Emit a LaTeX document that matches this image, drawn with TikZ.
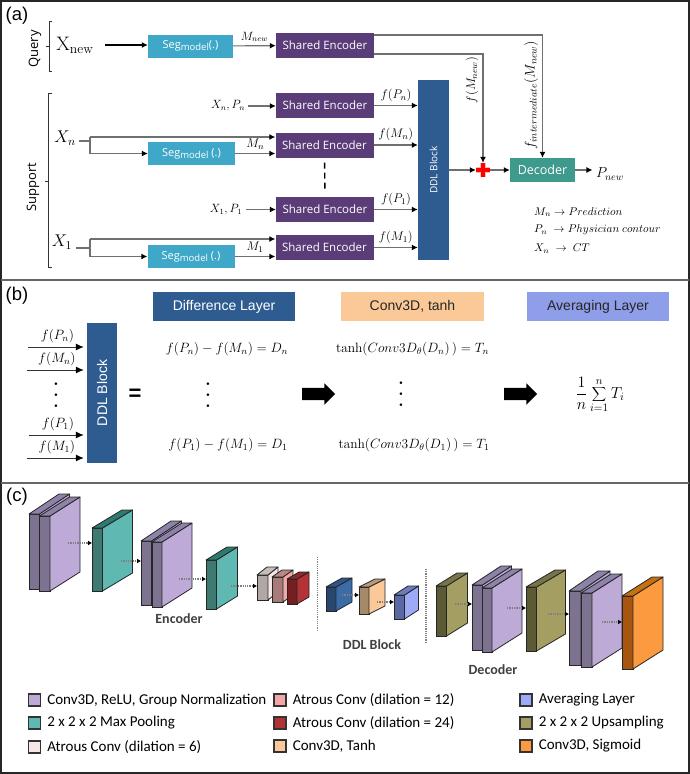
\RequirePackage{fix-cm}
\documentclass[tikz,border=0pt]{standalone}
\usepackage[no-math]{fontspec}
\setmainfont{Open Sans}
\newfontfamily\arialfont{Liberation Sans}
\newfontfamily\calfont{Carlito}
\usetikzlibrary{arrows.meta,positioning,shapes.arrows}

\definecolor{segblue}{HTML}{3FA8C8}
\definecolor{encpurple}{HTML}{5A3D78}
\definecolor{ddlblue}{HTML}{2F5C90}
\definecolor{decteal}{HTML}{3F9A8E}
\definecolor{linegrey}{HTML}{707070}
\definecolor{avgblue}{HTML}{8F9EE8}
\definecolor{purside}{HTML}{7D7290}
\definecolor{purface}{HTML}{BDAAD6}
\definecolor{purtop}{HTML}{8D82A8}
\definecolor{tealside}{HTML}{3F7A72}
\definecolor{tealface}{HTML}{5FB9B2}
\definecolor{tealtop}{HTML}{2F7A70}
\definecolor{paleside}{HTML}{B0A8A4}
\definecolor{paleface}{HTML}{F5E8E6}
\definecolor{paletop}{HTML}{C8BCB8}
\definecolor{roseside}{HTML}{A87A78}
\definecolor{roseface}{HTML}{F3A8A8}
\definecolor{rosetop}{HTML}{B88884}
\definecolor{redside}{HTML}{742022}
\definecolor{redface}{HTML}{B23236}
\definecolor{redtop}{HTML}{8C2A2C}
\definecolor{navyside}{HTML}{27476E}
\definecolor{navyface}{HTML}{3B6CA8}
\definecolor{navytop}{HTML}{2F5688}
\definecolor{peachside}{HTML}{A58A6A}
\definecolor{peachface}{HTML}{FBC998}
\definecolor{peachtop}{HTML}{B89A78}
\definecolor{periside}{HTML}{5A68A5}
\definecolor{periface}{HTML}{9CAAF8}
\definecolor{peritop}{HTML}{6F7DC0}
\definecolor{oliveside}{HTML}{5C5A34}
\definecolor{oliveface}{HTML}{A59E62}
\definecolor{olivetop}{HTML}{77744A}
\definecolor{orangeside}{HTML}{A8560F}
\definecolor{orangeface}{HTML}{FB9A3E}
\definecolor{orangetop}{HTML}{C7700F}

\newcommand{\fsize}[1]{\fontsize{#1}{#1}\selectfont}
\newcommand{\segtext}[1]{Seg\raisebox{-2pt}{\fsize{9.5}model}#1(.)}
\newcommand{\dotcol}{\vbox{\baselineskip11pt\lineskiplimit0pt\hbox{$.$}\hbox{$.$}\hbox{$.$}}}

\tikzset{
  flow/.style={draw=linegrey,line width=1.1pt,-{Latex[length=6pt,width=6pt,black]}},
  link/.style={draw=linegrey,line width=1.1pt},
  flowdark/.style={draw=black,line width=1.2pt,-{Latex[length=6pt,width=6pt,black]}},
  flowbig/.style={draw=black!80,line width=1pt,shorten >=3pt,-{Latex[length=8pt,width=7pt,black]}},
  smallflow/.style={draw=gray,line width=1.3pt,densely dotted,-{Latex[length=4pt,width=5pt,black]}},
  enc/.style={fill=encpurple,text=white,minimum width=98pt,minimum height=25pt,inner sep=0pt,font=\fsize{11.5}},
  seg/.style={fill=segblue,text=white,minimum width=87pt,minimum height=23pt,inner sep=0pt,font=\fsize{11}},
  panelbox/.style={minimum width=142pt,minimum height=29pt,inner sep=0pt,font=\arialfont\fsize{14}},
  eqn/.style={font=\fsize{13.5}},
  dotstack/.style={font=\fsize{27},inner sep=0pt},
  bigarrow/.style={single arrow,fill=black,minimum height=33pt,minimum width=21pt,single arrow head extend=4.5pt,single arrow head indent=0pt,inner xsep=0pt,inner ysep=6pt},
  legsq/.style={draw=black!80,line width=1.2pt,minimum size=12pt,inner sep=0pt},
  legtext/.style={font=\calfont\fsize{15},inner sep=0pt},
  partname/.style={font=\calfont\bfseries\fsize{14},text=black!75},
  sideface/.style={draw=black!85,line width=.8pt,inner sep=0pt,outer sep=0pt},
  blockedge/.style={draw=black!85,line width=.8pt,line join=round},
  sep/.style={draw=gray,line width=1.2pt,densely dotted},
}

% name, x, y, side width, height, dx, dy, colour family
\newcommand{\cuboid}[8]{%
  \node[sideface,fill=#8side,minimum width=#4pt,minimum height=#5pt,anchor=north west] (#1) at (#2,#3) {};
  \draw[blockedge,fill=#8face] (#1.north east) -- ++(#6,-#7) -- ++(0,#5) -- (#1.south east) -- cycle;
  \draw[blockedge,fill=#8top] (#1.north west) -- ++(#6,-#7) -- ++(#4,0) -- (#1.north east) -- cycle;
}
% name, x, y, colour, text
\newcommand{\legitem}[5]{%
  \node[legsq,fill=#4] (#1) at (#2,#3) {};
  \node[legtext,right=6pt of #1] (#1t) {#5};
}

\begin{document}
\begin{tikzpicture}[x=1pt,y=-1pt]
  \useasboundingbox (0,0) rectangle (690,774);
  \fill[white] (0,0) rectangle (690,774);

  % panel frames
  \draw[black!85,line width=2pt] (1,1) rectangle (689,773);
  \draw[black!60,line width=2pt] (1,279.5) -- (689,279.5);
  \draw[black!60,line width=2pt] (1,482.5) -- (689,482.5);

  \node[font=\arialfont\fsize{18.5}] (taga) at (17,16) {(a)};
  \node[font=\arialfont\fsize{18.5}] (tagb) at (17,296) {(b)};
  \node[font=\arialfont\fsize{18.5}] (tagc) at (17,497) {(c)};

  % (a) query
  \node[rotate=90,font=\fsize{13}] (query) at (35,49) {Query};
  \draw[black!80,line width=1pt] (52,21) -- (49,21) -- (49,71) -- (52,71) (49,46) -- (46,46);
  \node[font=\fsize{19.5}] (xnew) at (75,45) {$\mathrm{X}_{\mathrm{new}}$};
  \node[seg,minimum width=85pt] (segnew) at (190.5,46) {\segtext{}};
  \node[enc] (encnew) at (325,45.5) {Shared Encoder};
  \draw[flowdark] (xnew.east) ++(8pt,0) coordinate (xnewout) -- (xnewout -| segnew.west);
  \draw[flow] (segnew) -- node[above,font=\fsize{12}] (lmnew) {$M_{new}$} (encnew);

  % (a) support
  \node[rotate=90,font=\fsize{13}] (support) at (33,187) {Support};
  \draw[black!80,line width=1pt] (52,93) -- (48,93) -- (48,267) -- (52,267) (48,181) -- (45,181);

  \node[enc] (encpn) at (325,105.5) {Shared Encoder};
  \node[enc] (encmn) at (324.5,145) {Shared Encoder};
  \node[enc] (encpa) at (325,209.5) {Shared Encoder};
  \node[enc] (encma) at (324.5,247.5) {Shared Encoder};
  \draw[black,line width=1.4pt,dash pattern=on 6pt off 4pt,shorten <=5pt,shorten >=5pt] (encmn) -- (encpa);

  \node[seg] (segn) at (191.5,153.5) {\segtext{ }};
  \node[seg] (sega) at (191,256.5) {\segtext{ }};

  \node[font=\fsize{12}] (xpn) at (228,106) {$X_n,P_n$};
  \node[font=\fsize{12}] (xpa) at (226,209.5) {$X_1,P_1$};
  \draw[flow] (xpn) -- (xpn -| encpn.west);
  \draw[flow] (xpa) -- (xpa -| encpa.west);

  \node[font=\fsize{17}] (xn) at (65,138) {$X_n$};
  \node[font=\fsize{17}] (xa) at (62,242) {$X_1$};
  \coordinate (jn) at (90,141);
  \coordinate (ja) at (90,248);
  \coordinate (jnt) at (90,137);
  \coordinate (jnb) at (90,153.5);
  \coordinate (jat) at (90,239);
  \coordinate (jab) at (90,256.5);
  \draw[link] (xn.east |- jn) -- (jn);
  \draw[link] (xa.east |- ja) -- (ja);
  \draw[link] (jnb) -- (jnt);
  \draw[link] (jab) -- (jat);
  \draw[flow] (jnt) -- (jnt -| encmn.west);
  \draw[flow] (jat) -- (jat -| encma.west);
  \draw[flow] (jnb) -- (segn);
  \draw[flow] (jab) -- (sega);
  \draw[flow] (segn) -- node[above,font=\fsize{12.5}] (lmn) {$M_n$} (segn -| encmn.west);
  \draw[flow] (sega) -- node[above,font=\fsize{12.5}] (lma) {$M_1$} (sega -| encma.west);

  % (a) right side
  \node[fill=ddlblue,text=white,minimum width=31pt,minimum height=180pt,inner sep=0pt] (ddl) at (433.5,170) {};
  \node[rotate=90,text=white,font=\fsize{10}] (ddltext) at (ddl) {DDL Block};
  \node[fill=decteal,text=white,minimum width=65pt,minimum height=24pt,inner sep=0pt,font=\fsize{12.5}] (decoder) at (542.5,170) {Decoder};
  \node[minimum size=14pt,inner sep=0pt] (plus) at (483,170) {};
  \draw[red!60,line width=6pt,opacity=.45] ([xshift=-7pt]plus.center) -- ([xshift=7pt]plus.center) ([yshift=-7pt]plus.center) -- ([yshift=7pt]plus.center);
  \draw[red,line width=4pt] ([xshift=-7pt]plus.center) -- ([xshift=7pt]plus.center) ([yshift=-7pt]plus.center) -- ([yshift=7pt]plus.center);

  \draw[flow] (encpn) -- node[above,font=\fsize{12.5}] (lfpn) {$f(P_n)$} (encpn -| ddl.west);
  \draw[flow] (encmn) -- node[above,font=\fsize{12.5}] (lfmn) {$f(M_n)$} (encmn -| ddl.west);
  \draw[flow] (encpa) -- node[above,font=\fsize{12.5}] (lfpa) {$f(P_1)$} (encpa -| ddl.west);
  \draw[flow] (encma) -- node[above,font=\fsize{12.5}] (lfma) {$f(M_1)$} (encma -| ddl.west);
  \draw[flow] (ddl) -- (plus);
  \draw[flow] (plus) -- (decoder);
  \draw[flow] (encnew.east |- 0,54) -| (plus.north);
  \draw[flow] (encnew.east |- 0,35) -| (decoder.north);
  \node[rotate=90,font=\fsize{12.5}] (lfmnew) at (472,80) {$f(M_{new})$};
  \node[rotate=90,font=\fsize{14}] (lfint) at (531,95) {$f_{intermediate}(M_{new})$};

  \node[font=\fsize{14.5}] (pnew) at (610,174) {$P_{new}$};
  \draw[flow] (decoder) -- (decoder -| pnew.west);

  \node[anchor=west,inner sep=0pt,font=\fsize{11.2}] (keya) at (534,212) {$M_n\rightarrow Prediction$};
  \node[anchor=west,inner sep=0pt,font=\fsize{11.2}] (keyb) at (534,230) {$P_n\ \rightarrow Physician\ contour$};
  \node[anchor=west,inner sep=0pt,font=\fsize{11.2}] (keyc) at (534,249) {$X_n\ \rightarrow\ CT$};

  % (b)
  \node[fill=ddlblue,text=white,minimum width=30pt,minimum height=140pt,inner sep=0pt] (ddlb) at (102,393) {};
  \node[rotate=90,text=white,font=\arialfont\fsize{14}] (ddlbtext) at (ddlb) {DDL Block};
  \coordinate (inpn) at (28,347);
  \coordinate (inmn) at (27,370);
  \coordinate (inpa) at (29,435);
  \coordinate (inma) at (27,458);
  \draw[flowbig] (inpn) -- node[above,font=\fsize{13.5}] (bfpn) {$f(P_n)$} (inpn -| ddlb.west);
  \draw[flowbig] (inmn) -- node[above,font=\fsize{13.5}] (bfmn) {$f(M_n)$} (inmn -| ddlb.west);
  \draw[flowbig] (inpa) -- node[above,font=\fsize{13.5}] (bfpa) {$f(P_1)$} (inpa -| ddlb.west);
  \draw[flowbig] (inma) -- node[above,font=\fsize{13.5}] (bfma) {$f(M_1)$} (inma -| ddlb.west);
  \node[dotstack] (dotsa) at (56,395) {\dotcol};
  \node[font=\arialfont\bfseries\fsize{22}] (equal) at (135,395) {=};

  \node[panelbox,fill=ddlblue,text=white] (difflayer) at (224,306.5) {Difference Layer};
  \node[panelbox,fill=peachface,text=black!85,minimum width=143pt] (convlayer) at (412.5,306.5) {Conv3D, tanh};
  \node[panelbox,fill=avgblue,text=black!85] (avglayer) at (598,306.5) {Averaging Layer};

  \node[eqn] (eqa) at (227,349) {$f(P_n)-f(M_n)=D_n$};
  \node[dotstack] (dotsb) at (208,395) {\dotcol};
  \node[eqn] (eqb) at (228,445) {$f(P_1)-f(M_1)=D_1$};
  \node[eqn] (eqc) at (412.5,349) {$\tanh(Conv3D_\theta(D_n)\,)=T_n$};
  \node[dotstack] (dotsc) at (401,394) {\dotcol};
  \node[eqn] (eqd) at (414,445) {$\tanh(Conv3D_\theta(D_1)\,)=T_1$};
  \node[bigarrow] (bigarrowa) at (315.5,394) {};
  \node[bigarrow] (bigarrowb) at (517.5,394) {};
  \node[font=\fsize{16}] (avgsum) at (600,395) {$\displaystyle\frac{1}{n}\sum_{i=1}^{n}T_i$};

  % (c) encoder
  \cuboid{pura}{29}{514}{10.5}{75}{30}{20}{pur}
  \cuboid{purb}{39.5}{516}{10.5}{75}{30}{19}{pur}
  \cuboid{teala}{92}{528}{10.5}{63}{30}{18}{teal}
  \cuboid{purc}{141}{541}{10.5}{64}{30}{20}{pur}
  \cuboid{purd}{152}{542}{10}{65}{30}{19}{pur}
  \cuboid{tealb}{206}{560}{10.5}{49}{21}{13}{teal}
  \cuboid{palea}{257}{575}{11}{25}{10}{8}{pale}
  \cuboid{rosea}{272}{577}{11}{25}{10}{7}{rose}
  \cuboid{reda}{287}{579}{10}{25}{12}{7}{red}

  % (c) ddl block
  \cuboid{navya}{326}{587}{10}{24}{16}{9}{navy}
  \cuboid{peacha}{359}{587}{10}{27}{16}{8}{peach}
  \cuboid{peria}{394}{595}{10.5}{24}{14}{9}{peri}

  % (c) decoder
  \cuboid{olivea}{436}{586}{10.5}{50}{21}{13}{olive}
  \cuboid{pure}{472}{585}{10.5}{65}{29}{19}{pur}
  \cuboid{purf}{482}{588}{10}{64}{30}{19}{pur}
  \cuboid{oliveb}{526}{587}{10.5}{64}{29}{17}{olive}
  \cuboid{purg}{569}{591}{12}{74}{29}{20}{pur}
  \cuboid{purh}{581}{593}{11}{74}{30}{19}{pur}
  \cuboid{orangea}{622}{596}{11}{73}{30}{19}{orange}

  \coordinate (fa) at (68,543);
  \coordinate (fb) at (121,561);
  \coordinate (fc) at (179,579);
  \coordinate (fd) at (231,586);
  \coordinate (fe) at (342,595);
  \coordinate (ff) at (377,602);
  \coordinate (fg) at (455,604);
  \coordinate (fh) at (507,608);
  \coordinate (fi) at (548,614);
  \coordinate (fj) at (602,622);
  \draw[smallflow] (fa) -- (fa -| teala.west);
  \draw[smallflow] (fb) -- (fb -| purc.west);
  \draw[smallflow] (fc) -- (fc -| tealb.west);
  \draw[smallflow] (fd) -- (fd -| palea.west);
  \draw[smallflow] (fe) -- (fe -| peacha.west);
  \draw[smallflow] (ff) -- (ff -| peria.west);
  \draw[smallflow] (fg) -- (fg -| pure.west);
  \draw[smallflow] (fh) -- (fh -| oliveb.west);
  \draw[smallflow] (fi) -- (fi -| purg.west);
  \draw[smallflow] (fj) -- (fj -| orangea.west);

  \draw[sep] (317.5,557) -- (317.5,630);
  \draw[sep] (426,569) -- (426,643);

  \node[partname] (encname) at (179,619) {Encoder};
  \node[partname] (ddlname) at (372,645) {DDL Block};
  \node[partname] (decname) at (493,670) {Decoder};

  % legend
  \legitem{lega}{34.5}{700}{purface}{Conv3D, ReLU, Group Normalization}
  \legitem{legb}{34.5}{723}{tealface}{2 x 2 x 2 Max Pooling}
  \legitem{legc}{34.5}{747}{paleface}{Atrous Conv (dilation = 6)}
  \legitem{legd}{280}{700}{roseface}{Atrous Conv (dilation = 12)}
  \legitem{lege}{280}{723}{redface}{Atrous Conv (dilation = 24)}
  \legitem{legf}{280}{746}{peachface}{Conv3D, Tanh}
  \legitem{legg}{526}{700}{periface}{Averaging Layer}
  \legitem{legh}{526}{723}{oliveface}{2 x 2 x 2 Upsampling}
  \legitem{legi}{526}{746}{orangeface}{Conv3D, Sigmoid}
\end{tikzpicture}
\end{document}
